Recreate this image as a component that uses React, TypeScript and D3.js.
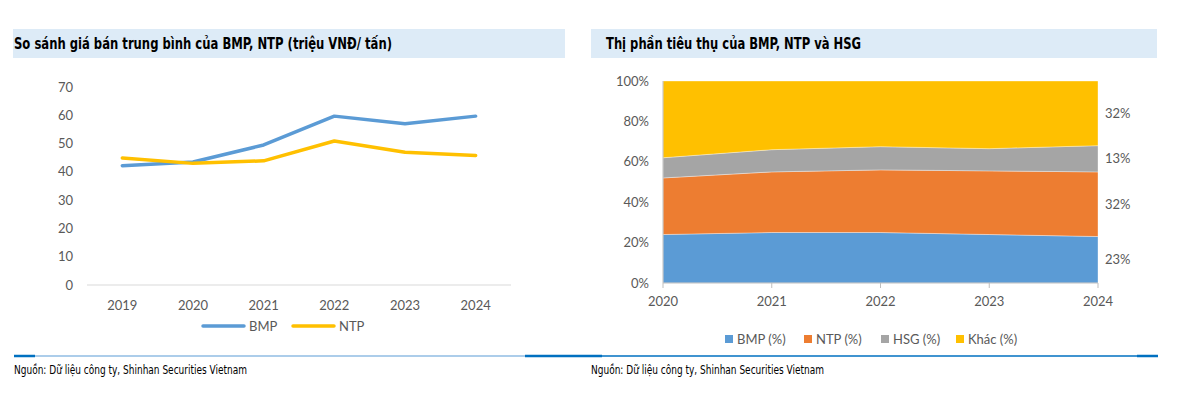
import * as d3 from 'd3';
import React from 'react';

// chart 1: average selling price (million VND / ton)
const priceYears = ['2019', '2020', '2021', '2022', '2023', '2024'];
const bmpPrice = [42.2, 43.5, 49.5, 59.7, 57.0, 59.7];
const ntpPrice = [44.9, 43.0, 43.9, 50.9, 46.9, 45.8];
const priceTicks = [0, 10, 20, 30, 40, 50, 60, 70];

// chart 2: market share (%)
const shareYears = ['2020', '2021', '2022', '2023', '2024'];
const bmpShare = [24, 25, 25, 24, 23];
const ntpShare = [28, 30, 31, 31.5, 32];
const hsgShare = [10, 11, 11.5, 11, 13];
const otherShare = [38, 34, 32.5, 33.5, 32];
const shareTicks = [0, 20, 40, 60, 80, 100];
const shareKeys = ['BMP (%)', 'NTP (%)', 'HSG (%)', 'Khác (%)'];
const shareColors = ['#5B9BD5', '#ED7D31', '#A5A5A5', '#FFC000'];
const endLabels = ['23%', '32%', '13%', '32%'];

const FONT = 'Lato, "Open Sans", sans-serif';
const NARROW = '"DejaVu Sans Condensed", "Liberation Sans", sans-serif';
const LABEL = '#595959';
const SOURCE = 'Nguồn: Dữ liệu công ty, Shinhan Securities Vietnam';

function PriceChart() {
  const x = d3.scaleBand().domain(priceYears).range([87, 511]);
  const y = d3.scaleLinear().domain([0, 70]).range([285, 87]);
  const cx = (i: number) => (x(priceYears[i]) as number) + x.bandwidth() / 2;
  const line = d3.line<number>().x((d, i) => cx(i)).y(d => y(d));
  const series = [
    { name: 'BMP', values: bmpPrice, color: '#5B9BD5' },
    { name: 'NTP', values: ntpPrice, color: '#FFC000' },
  ];
  return (
    <g>
      <line x1={87} x2={511} y1={y(0)} y2={y(0)} stroke="#d9d9d9" strokeWidth={1} />
      {priceTicks.map(t => (
        <text key={t} x={73} y={y(t)} dy="0.35em" textAnchor="end" fontSize={13} fill={LABEL} fontFamily={FONT}>{t}</text>
      ))}
      {priceYears.map((yr, i) => (
        <text key={yr} x={cx(i)} y={305} dy="0.35em" textAnchor="middle" fontSize={13} fill={LABEL} fontFamily={FONT}>{yr}</text>
      ))}
      {series.map(s => (
        <path key={s.name} d={line(s.values) || ''} fill="none" stroke={s.color} strokeWidth={3.5} strokeLinejoin="round" strokeLinecap="round" />
      ))}
      {series.map((s, i) => (
        <g key={s.name} transform={`translate(${203 + i * 90},326)`}>
          <line x1={0} x2={41} y1={0} y2={0} stroke={s.color} strokeWidth={3.5} strokeLinecap="round" />
          <text x={46} y={0} dy="0.35em" fontSize={13} fill={LABEL} fontFamily={FONT}>{s.name}</text>
        </g>
      ))}
    </g>
  );
}

function ShareChart() {
  const x = d3.scalePoint().domain(shareYears).range([663, 1098]);
  const y = d3.scaleLinear().domain([0, 100]).range([283, 81]);
  const rows = shareYears.map((yr, i) => ({
    year: yr,
    'BMP (%)': bmpShare[i],
    'NTP (%)': ntpShare[i],
    'HSG (%)': hsgShare[i],
    'Khác (%)': otherShare[i],
  }));
  const stacked = d3.stack<any>().keys(shareKeys)(rows);
  const area = d3.area<any>()
    .x(d => x(d.data.year) as number)
    .y0(d => y(d[0]))
    .y1(d => y(d[1]));
  const last = shareYears.length - 1;
  const legendX = [725, 804, 881, 956];
  return (
    <g>
      {stacked.map((s, i) => (
        <path key={s.key} d={area(s) || ''} fill={shareColors[i]} stroke="#ffffff" strokeOpacity={0.45} strokeWidth={0.8} />
      ))}
      <line x1={663} x2={663} y1={81} y2={283} stroke="#bfbfbf" />
      <line x1={663} x2={1098} y1={283} y2={283} stroke="#bfbfbf" />
      {shareYears.map(yr => (
        <line key={yr} x1={x(yr)} x2={x(yr)} y1={283} y2={288} stroke="#bfbfbf" />
      ))}
      {shareTicks.map(t => (
        <text key={t} x={649} y={y(t)} dy="0.35em" textAnchor="end" fontSize={13} fill={LABEL} fontFamily={FONT}>{t}%</text>
      ))}
      {shareYears.map(yr => (
        <text key={yr} x={x(yr)} y={301} dy="0.35em" textAnchor="middle" fontSize={13} fill={LABEL} fontFamily={FONT}>{yr}</text>
      ))}
      {stacked.map((s, i) => {
        const d = s[last];
        const mid = (y(d[0]) + y(d[1])) / 2;
        return (
          <text key={s.key} x={1105} y={mid} dy="0.35em" fontSize={13} fill={LABEL} fontFamily={FONT}>{endLabels[i]}</text>
        );
      })}
      {shareKeys.map((k, i) => (
        <g key={k} transform={`translate(${legendX[i]},339)`}>
          <rect x={0} y={-4} width={8} height={8} fill={shareColors[i]} />
          <text x={12} y={0} dy="0.35em" fontSize={13} fill={LABEL} fontFamily={FONT}>{k}</text>
        </g>
      ))}
    </g>
  );
}

export default function App() {
  return (
    <svg width={1198} height={396} style={{ position: 'absolute', left: 0, top: 0, background: '#fff' }}>
      <rect x={13} y={29} width={552} height={29} fill="#DDEBF7" />
      <rect x={591} y={29} width={566} height={29} fill="#DDEBF7" />
      <text x={14} y={49} fontSize={15.5} fontWeight="bold" fontFamily={NARROW} fill="#000" textLength={378} lengthAdjust="spacingAndGlyphs">So sánh giá bán trung bình của BMP, NTP (triệu VNĐ/ tấn)</text>
      <text x={606} y={49} fontSize={15.5} fontWeight="bold" fontFamily={NARROW} fill="#000" textLength={255} lengthAdjust="spacingAndGlyphs">Thị phần tiêu thụ của BMP, NTP và HSG</text>
      <PriceChart />
      <ShareChart />
      <line x1={14} x2={35} y1={356} y2={356} stroke="#0070C0" strokeWidth={2.5} />
      <line x1={35} x2={525} y1={356} y2={356} stroke="#5B9BD5" strokeWidth={1.2} />
      <line x1={525} x2={602} y1={356} y2={356} stroke="#0070C0" strokeWidth={2.5} />
      <line x1={602} x2={1137} y1={356} y2={356} stroke="#0070C0" strokeWidth={1.5} />
      <line x1={1137} x2={1158} y1={356} y2={356} stroke="#0070C0" strokeWidth={2.5} />
      <text x={14} y={374} fontSize={11.5} fontFamily={NARROW} fill="#000" textLength={233} lengthAdjust="spacingAndGlyphs">{SOURCE}</text>
      <text x={591} y={374} fontSize={11.5} fontFamily={NARROW} fill="#000" textLength={233} lengthAdjust="spacingAndGlyphs">{SOURCE}</text>
    </svg>
  );
}
